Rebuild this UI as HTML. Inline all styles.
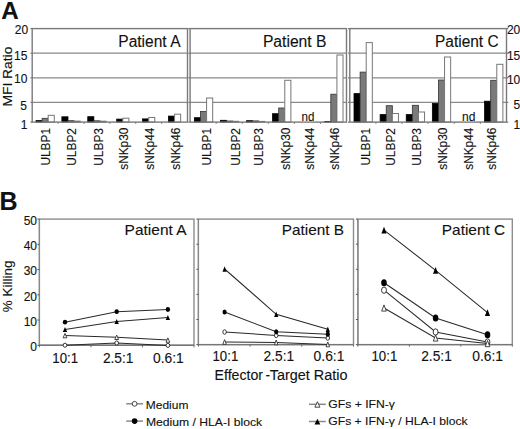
<!DOCTYPE html>
<html><head><meta charset="utf-8"><title>Figure</title>
<style>
html,body{margin:0;padding:0;background:#fff;}
body{width:520px;height:429px;overflow:hidden;}
svg{display:block;}
text{font-family:"Liberation Sans", sans-serif;fill:#111;stroke:#111;stroke-width:0.12px;}
</style></head>
<body>
<svg width="520" height="429" viewBox="0 0 520 429">
<rect width="520" height="429" fill="#fff"/>
<line x1="32.2" y1="53.2" x2="187.5" y2="53.2" stroke="#8a8a8a" stroke-width="1.3"/>
<line x1="32.2" y1="77.8" x2="187.5" y2="77.8" stroke="#8a8a8a" stroke-width="1.3"/>
<line x1="32.2" y1="102.4" x2="187.5" y2="102.4" stroke="#8a8a8a" stroke-width="1.3"/>
<rect x="35.99" y="120.60" width="6.1" height="1.50" fill="#000" stroke="#000" stroke-width="0.8"/>
<rect x="42.09" y="118.30" width="6.1" height="3.80" fill="#7a7a7a" stroke="#333" stroke-width="0.8"/>
<rect x="48.19" y="115.30" width="6.1" height="6.80" fill="#fff" stroke="#777" stroke-width="1"/>
<rect x="61.88" y="116.80" width="6.1" height="5.30" fill="#000" stroke="#000" stroke-width="0.8"/>
<rect x="67.98" y="120.70" width="6.1" height="1.40" fill="#7a7a7a" stroke="#333" stroke-width="0.8"/>
<rect x="74.08" y="121.10" width="6.1" height="1.00" fill="#fff" stroke="#777" stroke-width="1"/>
<rect x="87.76" y="116.70" width="6.1" height="5.40" fill="#000" stroke="#000" stroke-width="0.8"/>
<rect x="93.86" y="120.80" width="6.1" height="1.30" fill="#7a7a7a" stroke="#333" stroke-width="0.8"/>
<rect x="99.96" y="121.20" width="6.1" height="0.90" fill="#fff" stroke="#777" stroke-width="1"/>
<rect x="116.69" y="119.10" width="6.1" height="3.00" fill="#000" stroke="#000" stroke-width="0.8"/>
<rect x="122.79" y="118.20" width="6.1" height="3.90" fill="#fff" stroke="#777" stroke-width="1"/>
<rect x="142.58" y="118.90" width="6.1" height="3.20" fill="#000" stroke="#000" stroke-width="0.8"/>
<rect x="148.68" y="117.50" width="6.1" height="4.60" fill="#fff" stroke="#777" stroke-width="1"/>
<rect x="168.46" y="116.10" width="6.1" height="6.00" fill="#000" stroke="#000" stroke-width="0.8"/>
<rect x="174.56" y="114.20" width="6.1" height="7.90" fill="#fff" stroke="#777" stroke-width="1"/>
<rect x="32.2" y="28.6" width="155.30" height="93.50" fill="none" stroke="#7a7a7a" stroke-width="1.4"/>
<line x1="30.400000000000002" y1="28.6" x2="32.2" y2="28.6" stroke="#7a7a7a" stroke-width="1.2"/>
<line x1="30.400000000000002" y1="53.2" x2="32.2" y2="53.2" stroke="#7a7a7a" stroke-width="1.2"/>
<line x1="30.400000000000002" y1="77.8" x2="32.2" y2="77.8" stroke="#7a7a7a" stroke-width="1.2"/>
<line x1="30.400000000000002" y1="102.4" x2="32.2" y2="102.4" stroke="#7a7a7a" stroke-width="1.2"/>
<line x1="30.400000000000002" y1="122.1" x2="32.2" y2="122.1" stroke="#7a7a7a" stroke-width="1.2"/>
<line x1="58.08" y1="122.1" x2="58.08" y2="123.89999999999999" stroke="#7a7a7a" stroke-width="1"/>
<line x1="83.97" y1="122.1" x2="83.97" y2="123.89999999999999" stroke="#7a7a7a" stroke-width="1"/>
<line x1="109.85" y1="122.1" x2="109.85" y2="123.89999999999999" stroke="#7a7a7a" stroke-width="1"/>
<line x1="135.73" y1="122.1" x2="135.73" y2="123.89999999999999" stroke="#7a7a7a" stroke-width="1"/>
<line x1="161.62" y1="122.1" x2="161.62" y2="123.89999999999999" stroke="#7a7a7a" stroke-width="1"/>
<text transform="translate(49.60,128.0) rotate(-90)" text-anchor="end" font-size="13.2" textLength="37.5" lengthAdjust="spacingAndGlyphs">ULBP1</text>
<text transform="translate(76.10,128.0) rotate(-90)" text-anchor="end" font-size="13.2" textLength="37.8" lengthAdjust="spacingAndGlyphs">ULBP2</text>
<text transform="translate(102.50,128.0) rotate(-90)" text-anchor="end" font-size="13.2" textLength="37.8" lengthAdjust="spacingAndGlyphs">ULBP3</text>
<text transform="translate(127.50,127.6) rotate(-90)" text-anchor="end" font-size="13.2" textLength="42.2" lengthAdjust="spacingAndGlyphs">sNKp30</text>
<text transform="translate(154.30,127.6) rotate(-90)" text-anchor="end" font-size="13.2" textLength="42.2" lengthAdjust="spacingAndGlyphs">sNKp44</text>
<text transform="translate(179.60,127.6) rotate(-90)" text-anchor="end" font-size="13.2" textLength="42.2" lengthAdjust="spacingAndGlyphs">sNKp46</text>
<line x1="190.1" y1="53.2" x2="346.5" y2="53.2" stroke="#8a8a8a" stroke-width="1.3"/>
<line x1="190.1" y1="77.8" x2="346.5" y2="77.8" stroke="#8a8a8a" stroke-width="1.3"/>
<line x1="190.1" y1="102.4" x2="346.5" y2="102.4" stroke="#8a8a8a" stroke-width="1.3"/>
<rect x="194.38" y="117.70" width="6.1" height="4.40" fill="#000" stroke="#000" stroke-width="0.8"/>
<rect x="200.48" y="111.50" width="6.1" height="10.60" fill="#7a7a7a" stroke="#333" stroke-width="0.8"/>
<rect x="206.58" y="98.00" width="6.1" height="24.10" fill="#fff" stroke="#777" stroke-width="1"/>
<rect x="220.45" y="120.30" width="6.1" height="1.80" fill="#000" stroke="#000" stroke-width="0.8"/>
<rect x="226.55" y="121.00" width="6.1" height="1.10" fill="#7a7a7a" stroke="#333" stroke-width="0.8"/>
<rect x="232.65" y="121.30" width="6.1" height="0.80" fill="#fff" stroke="#777" stroke-width="1"/>
<rect x="246.52" y="120.70" width="6.1" height="1.40" fill="#000" stroke="#000" stroke-width="0.8"/>
<rect x="252.62" y="120.90" width="6.1" height="1.20" fill="#7a7a7a" stroke="#333" stroke-width="0.8"/>
<rect x="258.72" y="121.40" width="6.1" height="0.70" fill="#fff" stroke="#777" stroke-width="1"/>
<rect x="272.58" y="113.70" width="6.1" height="8.40" fill="#000" stroke="#000" stroke-width="0.8"/>
<rect x="278.68" y="108.00" width="6.1" height="14.10" fill="#7a7a7a" stroke="#333" stroke-width="0.8"/>
<rect x="284.78" y="80.30" width="6.1" height="41.80" fill="#fff" stroke="#777" stroke-width="1"/>
<rect x="324.72" y="121.50" width="6.1" height="0.60" fill="#000" stroke="#000" stroke-width="0.8"/>
<rect x="330.82" y="94.20" width="6.1" height="27.90" fill="#7a7a7a" stroke="#333" stroke-width="0.8"/>
<rect x="336.92" y="55.00" width="6.1" height="67.10" fill="#fff" stroke="#777" stroke-width="1"/>
<rect x="190.1" y="28.6" width="156.40" height="93.50" fill="none" stroke="#7a7a7a" stroke-width="1.4"/>
<line x1="188.29999999999998" y1="28.6" x2="190.1" y2="28.6" stroke="#7a7a7a" stroke-width="1.2"/>
<line x1="188.29999999999998" y1="53.2" x2="190.1" y2="53.2" stroke="#7a7a7a" stroke-width="1.2"/>
<line x1="188.29999999999998" y1="77.8" x2="190.1" y2="77.8" stroke="#7a7a7a" stroke-width="1.2"/>
<line x1="188.29999999999998" y1="102.4" x2="190.1" y2="102.4" stroke="#7a7a7a" stroke-width="1.2"/>
<line x1="188.29999999999998" y1="122.1" x2="190.1" y2="122.1" stroke="#7a7a7a" stroke-width="1.2"/>
<line x1="216.17" y1="122.1" x2="216.17" y2="123.89999999999999" stroke="#7a7a7a" stroke-width="1"/>
<line x1="242.23" y1="122.1" x2="242.23" y2="123.89999999999999" stroke="#7a7a7a" stroke-width="1"/>
<line x1="268.30" y1="122.1" x2="268.30" y2="123.89999999999999" stroke="#7a7a7a" stroke-width="1"/>
<line x1="294.37" y1="122.1" x2="294.37" y2="123.89999999999999" stroke="#7a7a7a" stroke-width="1"/>
<line x1="320.43" y1="122.1" x2="320.43" y2="123.89999999999999" stroke="#7a7a7a" stroke-width="1"/>
<text transform="translate(210.70,128.0) rotate(-90)" text-anchor="end" font-size="13.2" textLength="37.5" lengthAdjust="spacingAndGlyphs">ULBP1</text>
<text transform="translate(239.90,128.0) rotate(-90)" text-anchor="end" font-size="13.2" textLength="37.8" lengthAdjust="spacingAndGlyphs">ULBP2</text>
<text transform="translate(263.40,128.0) rotate(-90)" text-anchor="end" font-size="13.2" textLength="37.8" lengthAdjust="spacingAndGlyphs">ULBP3</text>
<text transform="translate(289.50,127.6) rotate(-90)" text-anchor="end" font-size="13.2" textLength="42.2" lengthAdjust="spacingAndGlyphs">sNKp30</text>
<text transform="translate(313.80,127.6) rotate(-90)" text-anchor="end" font-size="13.2" textLength="42.2" lengthAdjust="spacingAndGlyphs">sNKp44</text>
<text transform="translate(339.30,127.6) rotate(-90)" text-anchor="end" font-size="13.2" textLength="42.2" lengthAdjust="spacingAndGlyphs">sNKp46</text>
<line x1="349.8" y1="53.2" x2="506.5" y2="53.2" stroke="#8a8a8a" stroke-width="1.3"/>
<line x1="349.8" y1="77.8" x2="506.5" y2="77.8" stroke="#8a8a8a" stroke-width="1.3"/>
<line x1="349.8" y1="102.4" x2="506.5" y2="102.4" stroke="#8a8a8a" stroke-width="1.3"/>
<rect x="354.01" y="93.60" width="6.1" height="28.50" fill="#000" stroke="#000" stroke-width="0.8"/>
<rect x="360.11" y="72.10" width="6.1" height="50.00" fill="#7a7a7a" stroke="#333" stroke-width="0.8"/>
<rect x="366.21" y="42.60" width="6.1" height="79.50" fill="#fff" stroke="#777" stroke-width="1"/>
<rect x="380.13" y="114.60" width="6.1" height="7.50" fill="#000" stroke="#000" stroke-width="0.8"/>
<rect x="386.23" y="105.70" width="6.1" height="16.40" fill="#7a7a7a" stroke="#333" stroke-width="0.8"/>
<rect x="392.33" y="113.50" width="6.1" height="8.60" fill="#fff" stroke="#777" stroke-width="1"/>
<rect x="406.24" y="114.60" width="6.1" height="7.50" fill="#000" stroke="#000" stroke-width="0.8"/>
<rect x="412.34" y="105.30" width="6.1" height="16.80" fill="#7a7a7a" stroke="#333" stroke-width="0.8"/>
<rect x="418.44" y="112.00" width="6.1" height="10.10" fill="#fff" stroke="#777" stroke-width="1"/>
<rect x="432.36" y="103.50" width="6.1" height="18.60" fill="#000" stroke="#000" stroke-width="0.8"/>
<rect x="438.46" y="80.00" width="6.1" height="42.10" fill="#7a7a7a" stroke="#333" stroke-width="0.8"/>
<rect x="444.56" y="57.00" width="6.1" height="65.10" fill="#fff" stroke="#777" stroke-width="1"/>
<rect x="484.59" y="101.20" width="6.1" height="20.90" fill="#000" stroke="#000" stroke-width="0.8"/>
<rect x="490.69" y="80.30" width="6.1" height="41.80" fill="#7a7a7a" stroke="#333" stroke-width="0.8"/>
<rect x="496.79" y="64.30" width="6.1" height="57.80" fill="#fff" stroke="#777" stroke-width="1"/>
<rect x="349.8" y="28.6" width="156.70" height="93.50" fill="none" stroke="#7a7a7a" stroke-width="1.4"/>
<line x1="348.0" y1="28.6" x2="349.8" y2="28.6" stroke="#7a7a7a" stroke-width="1.2"/>
<line x1="348.0" y1="53.2" x2="349.8" y2="53.2" stroke="#7a7a7a" stroke-width="1.2"/>
<line x1="348.0" y1="77.8" x2="349.8" y2="77.8" stroke="#7a7a7a" stroke-width="1.2"/>
<line x1="348.0" y1="102.4" x2="349.8" y2="102.4" stroke="#7a7a7a" stroke-width="1.2"/>
<line x1="348.0" y1="122.1" x2="349.8" y2="122.1" stroke="#7a7a7a" stroke-width="1.2"/>
<line x1="506.5" y1="28.6" x2="508.3" y2="28.6" stroke="#7a7a7a" stroke-width="1.2"/>
<line x1="506.5" y1="53.2" x2="508.3" y2="53.2" stroke="#7a7a7a" stroke-width="1.2"/>
<line x1="506.5" y1="77.8" x2="508.3" y2="77.8" stroke="#7a7a7a" stroke-width="1.2"/>
<line x1="506.5" y1="102.4" x2="508.3" y2="102.4" stroke="#7a7a7a" stroke-width="1.2"/>
<line x1="506.5" y1="122.1" x2="508.3" y2="122.1" stroke="#7a7a7a" stroke-width="1.2"/>
<line x1="375.92" y1="122.1" x2="375.92" y2="123.89999999999999" stroke="#7a7a7a" stroke-width="1"/>
<line x1="402.03" y1="122.1" x2="402.03" y2="123.89999999999999" stroke="#7a7a7a" stroke-width="1"/>
<line x1="428.15" y1="122.1" x2="428.15" y2="123.89999999999999" stroke="#7a7a7a" stroke-width="1"/>
<line x1="454.27" y1="122.1" x2="454.27" y2="123.89999999999999" stroke="#7a7a7a" stroke-width="1"/>
<line x1="480.38" y1="122.1" x2="480.38" y2="123.89999999999999" stroke="#7a7a7a" stroke-width="1"/>
<text transform="translate(369.60,128.0) rotate(-90)" text-anchor="end" font-size="13.2" textLength="37.5" lengthAdjust="spacingAndGlyphs">ULBP1</text>
<text transform="translate(395.30,128.0) rotate(-90)" text-anchor="end" font-size="13.2" textLength="37.8" lengthAdjust="spacingAndGlyphs">ULBP2</text>
<text transform="translate(420.70,128.0) rotate(-90)" text-anchor="end" font-size="13.2" textLength="37.8" lengthAdjust="spacingAndGlyphs">ULBP3</text>
<text transform="translate(447.00,127.6) rotate(-90)" text-anchor="end" font-size="13.2" textLength="42.2" lengthAdjust="spacingAndGlyphs">sNKp30</text>
<text transform="translate(472.50,127.6) rotate(-90)" text-anchor="end" font-size="13.2" textLength="42.2" lengthAdjust="spacingAndGlyphs">sNKp44</text>
<text transform="translate(496.20,127.6) rotate(-90)" text-anchor="end" font-size="13.2" textLength="42.2" lengthAdjust="spacingAndGlyphs">sNKp46</text>
<text x="301.5" y="120.7" font-size="12" textLength="12.9" lengthAdjust="spacingAndGlyphs">nd</text>
<text x="462.0" y="120.8" font-size="12" textLength="13.4" lengthAdjust="spacingAndGlyphs">nd</text>
<text x="118.3" y="46.6" font-size="15.6" textLength="62.2" lengthAdjust="spacingAndGlyphs">Patient A</text>
<text x="262.9" y="46.6" font-size="15.6" textLength="63.6" lengthAdjust="spacingAndGlyphs">Patient B</text>
<text x="435.0" y="46.6" font-size="15.6" textLength="63.6" lengthAdjust="spacingAndGlyphs">Patient C</text>
<text x="28.1" y="33.8" font-size="12" text-anchor="end">20</text>
<text x="27.4" y="60.0" font-size="12" text-anchor="end">15</text>
<text x="27.4" y="83.4" font-size="12" text-anchor="end">10</text>
<text x="27.0" y="109.8" font-size="12" text-anchor="end">5</text>
<text x="27.5" y="128.7" font-size="12" text-anchor="end">1</text>
<text x="520.3" y="33.8" font-size="12" text-anchor="end">20</text>
<text x="520.3" y="59.6" font-size="12" text-anchor="end">15</text>
<text x="520.3" y="83.5" font-size="12" text-anchor="end">10</text>
<text x="520.3" y="109.2" font-size="12" text-anchor="end">5</text>
<text x="520.3" y="128.8" font-size="12" text-anchor="end">1</text>
<text transform="translate(12.2,106.6) rotate(-90)" font-size="13.2" textLength="60.0" lengthAdjust="spacingAndGlyphs">MFI Ratio</text>
<text x="1.2" y="19.3" font-size="24.2" font-weight="bold">A</text>
<text x="-0.6" y="210" font-size="25" font-weight="bold">B</text>
<rect x="39.4" y="219.1" width="154.60" height="126.20" fill="none" stroke="#8c8c8c" stroke-width="1.4"/>
<line x1="39.4" y1="219.1" x2="39.4" y2="345.3" stroke="#888" stroke-width="1.2"/>
<line x1="38.9" y1="345.3" x2="194.0" y2="345.3" stroke="#777" stroke-width="1.4"/>
<line x1="37.4" y1="345.30" x2="39.4" y2="345.30" stroke="#555" stroke-width="1"/>
<line x1="37.4" y1="320.06" x2="39.4" y2="320.06" stroke="#555" stroke-width="1"/>
<line x1="37.4" y1="294.82" x2="39.4" y2="294.82" stroke="#555" stroke-width="1"/>
<line x1="37.4" y1="269.58" x2="39.4" y2="269.58" stroke="#555" stroke-width="1"/>
<line x1="37.4" y1="244.34" x2="39.4" y2="244.34" stroke="#555" stroke-width="1"/>
<line x1="37.4" y1="219.10" x2="39.4" y2="219.10" stroke="#555" stroke-width="1"/>
<line x1="39.40" y1="345.3" x2="39.40" y2="347.3" stroke="#666" stroke-width="1"/>
<line x1="90.93" y1="345.3" x2="90.93" y2="347.3" stroke="#666" stroke-width="1"/>
<line x1="142.47" y1="345.3" x2="142.47" y2="347.3" stroke="#666" stroke-width="1"/>
<line x1="194.00" y1="345.3" x2="194.00" y2="347.3" stroke="#666" stroke-width="1"/>
<polyline points="65.00,345.20 116.70,343.00 167.90,345.40" fill="none" stroke="#2a2a2a" stroke-width="1.05"/>
<polyline points="65.00,335.60 116.70,337.30 167.90,340.10" fill="none" stroke="#2a2a2a" stroke-width="1.05"/>
<polyline points="65.00,322.20 116.70,311.70 167.90,309.50" fill="none" stroke="#2a2a2a" stroke-width="1.05"/>
<polyline points="65.00,329.60 116.70,321.40 167.90,317.40" fill="none" stroke="#2a2a2a" stroke-width="1.05"/>
<ellipse cx="65.00" cy="345.20" rx="1.85" ry="2.05" fill="#fff" stroke="#222" stroke-width="0.9"/>
<ellipse cx="116.70" cy="343.00" rx="1.85" ry="2.05" fill="#fff" stroke="#222" stroke-width="0.9"/>
<ellipse cx="167.90" cy="345.40" rx="1.85" ry="2.05" fill="#fff" stroke="#222" stroke-width="0.9"/>
<polygon points="65.00,333.40 63.10,337.80 66.90,337.80" fill="#fff" stroke="#333" stroke-width="0.9"/>
<polygon points="116.70,335.10 114.80,339.50 118.60,339.50" fill="#fff" stroke="#333" stroke-width="0.9"/>
<polygon points="167.90,337.90 166.00,342.30 169.80,342.30" fill="#fff" stroke="#333" stroke-width="0.9"/>
<ellipse cx="65.00" cy="322.20" rx="2.2" ry="2.4" fill="#000"/>
<ellipse cx="116.70" cy="311.70" rx="2.2" ry="2.4" fill="#000"/>
<ellipse cx="167.90" cy="309.50" rx="2.2" ry="2.4" fill="#000"/>
<polygon points="65.00,327.10 62.80,332.10 67.20,332.10" fill="#000"/>
<polygon points="116.70,318.90 114.50,323.90 118.90,323.90" fill="#000"/>
<polygon points="167.90,314.90 165.70,319.90 170.10,319.90" fill="#000"/>
<text x="65.20" y="362.9" font-size="14.1" text-anchor="middle" textLength="25.8" lengthAdjust="spacingAndGlyphs">10:1</text>
<text x="118.20" y="362.9" font-size="14.1" text-anchor="middle" textLength="30.6" lengthAdjust="spacingAndGlyphs">2.5:1</text>
<text x="168.40" y="362.9" font-size="14.1" text-anchor="middle" textLength="30.8" lengthAdjust="spacingAndGlyphs">0.6:1</text>
<rect x="198.4" y="219.1" width="155.10" height="125.50" fill="none" stroke="#8c8c8c" stroke-width="1.4"/>
<line x1="198.4" y1="219.1" x2="198.4" y2="344.6" stroke="#888" stroke-width="1.2"/>
<line x1="197.9" y1="344.6" x2="353.5" y2="344.6" stroke="#777" stroke-width="1.4"/>
<line x1="196.4" y1="344.60" x2="198.4" y2="344.60" stroke="#555" stroke-width="1"/>
<line x1="196.4" y1="319.50" x2="198.4" y2="319.50" stroke="#555" stroke-width="1"/>
<line x1="196.4" y1="294.40" x2="198.4" y2="294.40" stroke="#555" stroke-width="1"/>
<line x1="196.4" y1="269.30" x2="198.4" y2="269.30" stroke="#555" stroke-width="1"/>
<line x1="196.4" y1="244.20" x2="198.4" y2="244.20" stroke="#555" stroke-width="1"/>
<line x1="196.4" y1="219.10" x2="198.4" y2="219.10" stroke="#555" stroke-width="1"/>
<line x1="198.40" y1="344.6" x2="198.40" y2="346.6" stroke="#666" stroke-width="1"/>
<line x1="250.10" y1="344.6" x2="250.10" y2="346.6" stroke="#666" stroke-width="1"/>
<line x1="301.80" y1="344.6" x2="301.80" y2="346.6" stroke="#666" stroke-width="1"/>
<line x1="353.50" y1="344.6" x2="353.50" y2="346.6" stroke="#666" stroke-width="1"/>
<polyline points="224.60,332.00 276.20,335.40 327.80,338.00" fill="none" stroke="#2a2a2a" stroke-width="1.05"/>
<polyline points="224.60,342.00 276.20,342.40 327.80,344.40" fill="none" stroke="#2a2a2a" stroke-width="1.05"/>
<polyline points="224.60,312.00 276.20,331.80 327.80,334.20" fill="none" stroke="#2a2a2a" stroke-width="1.05"/>
<polyline points="224.60,269.00 276.20,314.30 327.80,329.20" fill="none" stroke="#2a2a2a" stroke-width="1.05"/>
<ellipse cx="224.60" cy="332.00" rx="1.75" ry="2.25" fill="#fff" stroke="#222" stroke-width="0.9"/>
<ellipse cx="276.20" cy="335.40" rx="1.75" ry="2.25" fill="#fff" stroke="#222" stroke-width="0.9"/>
<ellipse cx="327.80" cy="338.00" rx="1.75" ry="2.25" fill="#fff" stroke="#222" stroke-width="0.9"/>
<polygon points="224.60,339.60 222.80,344.40 226.40,344.40" fill="#fff" stroke="#333" stroke-width="0.9"/>
<polygon points="276.20,340.00 274.40,344.80 278.00,344.80" fill="#fff" stroke="#333" stroke-width="0.9"/>
<polygon points="327.80,342.00 326.00,346.80 329.60,346.80" fill="#fff" stroke="#333" stroke-width="0.9"/>
<ellipse cx="224.60" cy="312.00" rx="2.1" ry="2.6" fill="#000"/>
<ellipse cx="276.20" cy="331.80" rx="2.1" ry="2.6" fill="#000"/>
<ellipse cx="327.80" cy="334.20" rx="2.1" ry="2.6" fill="#000"/>
<polygon points="224.60,266.30 222.50,271.70 226.70,271.70" fill="#000"/>
<polygon points="276.20,311.60 274.10,317.00 278.30,317.00" fill="#000"/>
<polygon points="327.80,326.50 325.70,331.90 329.90,331.90" fill="#000"/>
<text x="225.40" y="361.2" font-size="14.1" text-anchor="middle" textLength="25.8" lengthAdjust="spacingAndGlyphs">10:1</text>
<text x="278.90" y="361.2" font-size="14.1" text-anchor="middle" textLength="30.6" lengthAdjust="spacingAndGlyphs">2.5:1</text>
<text x="329.00" y="361.2" font-size="14.1" text-anchor="middle" textLength="30.8" lengthAdjust="spacingAndGlyphs">0.6:1</text>
<rect x="357.9" y="219.1" width="154.40" height="125.50" fill="none" stroke="#8c8c8c" stroke-width="1.4"/>
<line x1="357.9" y1="219.1" x2="357.9" y2="344.6" stroke="#888" stroke-width="1.2"/>
<line x1="357.4" y1="344.6" x2="512.3" y2="344.6" stroke="#777" stroke-width="1.4"/>
<line x1="355.9" y1="344.60" x2="357.9" y2="344.60" stroke="#555" stroke-width="1"/>
<line x1="355.9" y1="319.50" x2="357.9" y2="319.50" stroke="#555" stroke-width="1"/>
<line x1="355.9" y1="294.40" x2="357.9" y2="294.40" stroke="#555" stroke-width="1"/>
<line x1="355.9" y1="269.30" x2="357.9" y2="269.30" stroke="#555" stroke-width="1"/>
<line x1="355.9" y1="244.20" x2="357.9" y2="244.20" stroke="#555" stroke-width="1"/>
<line x1="355.9" y1="219.10" x2="357.9" y2="219.10" stroke="#555" stroke-width="1"/>
<line x1="357.90" y1="344.6" x2="357.90" y2="346.6" stroke="#666" stroke-width="1"/>
<line x1="409.37" y1="344.6" x2="409.37" y2="346.6" stroke="#666" stroke-width="1"/>
<line x1="460.83" y1="344.6" x2="460.83" y2="346.6" stroke="#666" stroke-width="1"/>
<line x1="512.30" y1="344.6" x2="512.30" y2="346.6" stroke="#666" stroke-width="1"/>
<polyline points="384.00,290.20 435.60,332.00 487.50,342.00" fill="none" stroke="#2a2a2a" stroke-width="1.05"/>
<polyline points="384.00,308.00 435.60,338.00 487.50,343.60" fill="none" stroke="#2a2a2a" stroke-width="1.05"/>
<polyline points="384.00,282.70 435.60,318.00 487.50,334.70" fill="none" stroke="#2a2a2a" stroke-width="1.05"/>
<polyline points="384.00,230.10 435.60,270.30 487.50,312.60" fill="none" stroke="#2a2a2a" stroke-width="1.05"/>
<ellipse cx="384.00" cy="290.20" rx="2.4499999999999997" ry="3.15" fill="#fff" stroke="#222" stroke-width="0.9"/>
<ellipse cx="435.60" cy="332.00" rx="2.4499999999999997" ry="3.15" fill="#fff" stroke="#222" stroke-width="0.9"/>
<ellipse cx="487.50" cy="342.00" rx="2.4499999999999997" ry="3.15" fill="#fff" stroke="#222" stroke-width="0.9"/>
<polygon points="384.00,304.90 381.70,311.10 386.30,311.10" fill="#fff" stroke="#333" stroke-width="0.9"/>
<polygon points="435.60,334.90 433.30,341.10 437.90,341.10" fill="#fff" stroke="#333" stroke-width="0.9"/>
<polygon points="487.50,340.50 485.20,346.70 489.80,346.70" fill="#fff" stroke="#333" stroke-width="0.9"/>
<ellipse cx="384.00" cy="282.70" rx="2.8" ry="3.5" fill="#000"/>
<ellipse cx="435.60" cy="318.00" rx="2.8" ry="3.5" fill="#000"/>
<ellipse cx="487.50" cy="334.70" rx="2.8" ry="3.5" fill="#000"/>
<polygon points="384.00,226.70 381.40,233.50 386.60,233.50" fill="#000"/>
<polygon points="435.60,266.90 433.00,273.70 438.20,273.70" fill="#000"/>
<polygon points="487.50,309.20 484.90,316.00 490.10,316.00" fill="#000"/>
<text x="384.40" y="361.2" font-size="14.1" text-anchor="middle" textLength="25.8" lengthAdjust="spacingAndGlyphs">10:1</text>
<text x="436.50" y="361.2" font-size="14.1" text-anchor="middle" textLength="30.6" lengthAdjust="spacingAndGlyphs">2.5:1</text>
<text x="487.60" y="361.2" font-size="14.1" text-anchor="middle" textLength="30.8" lengthAdjust="spacingAndGlyphs">0.6:1</text>
<text x="37.0" y="351.00" font-size="12" text-anchor="end">0</text>
<text x="37.0" y="325.76" font-size="12" text-anchor="end">10</text>
<text x="37.0" y="300.52" font-size="12" text-anchor="end">20</text>
<text x="37.0" y="275.28" font-size="12" text-anchor="end">30</text>
<text x="37.0" y="250.04" font-size="12" text-anchor="end">40</text>
<text x="37.0" y="224.80" font-size="12" text-anchor="end">50</text>
<text transform="translate(12.0,312.2) rotate(-90)" font-size="13.6" textLength="51.6" lengthAdjust="spacingAndGlyphs">% Killing</text>
<text x="124.6" y="235.4" font-size="14.6" textLength="62" lengthAdjust="spacingAndGlyphs">Patient A</text>
<text x="281.8" y="235.4" font-size="14.6" textLength="62.2" lengthAdjust="spacingAndGlyphs">Patient B</text>
<text x="441.8" y="235.4" font-size="14.6" textLength="63.4" lengthAdjust="spacingAndGlyphs">Patient C</text>
<text x="214.6" y="380.2" font-size="13.8" textLength="48.4" lengthAdjust="spacingAndGlyphs">Effector</text>
<text x="265.4" y="380.2" font-size="13.8">-</text>
<text x="269.8" y="380.2" font-size="13.8" textLength="77.6" lengthAdjust="spacingAndGlyphs">Target Ratio</text>
<line x1="126.19999999999999" y1="403.8" x2="143.0" y2="403.8" stroke="#8a8a8a" stroke-width="1.5"/>
<circle cx="134.6" cy="403.8" r="2.4" fill="#fff" stroke="#333" stroke-width="0.9"/>
<text x="145.8" y="408.6" font-size="11.6" textLength="42.6" lengthAdjust="spacingAndGlyphs">Medium</text>
<line x1="126.19999999999999" y1="421.1" x2="143.0" y2="421.1" stroke="#8a8a8a" stroke-width="1.5"/>
<circle cx="134.6" cy="421.1" r="2.8" fill="#000"/>
<text x="145.9" y="425.9" font-size="11.6" textLength="116.3" lengthAdjust="spacingAndGlyphs">Medium / HLA-I block</text>
<line x1="309.0" y1="404.3" x2="325.79999999999995" y2="404.3" stroke="#8a8a8a" stroke-width="1.5"/>
<polygon points="317.4,401.7 314.9,407.2 319.9,407.2" fill="#fff" stroke="#333" stroke-width="0.9"/>
<text x="328.3" y="407.9" font-size="11.6" textLength="66.6" lengthAdjust="spacingAndGlyphs">GFs + IFN-&#947;</text>
<line x1="309.0" y1="421.5" x2="325.79999999999995" y2="421.5" stroke="#8a8a8a" stroke-width="1.5"/>
<polygon points="317.4,418.7 314.5,424.5 320.29999999999995,424.5" fill="#000"/>
<text x="328.3" y="425.2" font-size="11.6" textLength="139.4" lengthAdjust="spacingAndGlyphs">GFs + IFN-&#947; / HLA-I block</text>
</svg>
</body></html>
